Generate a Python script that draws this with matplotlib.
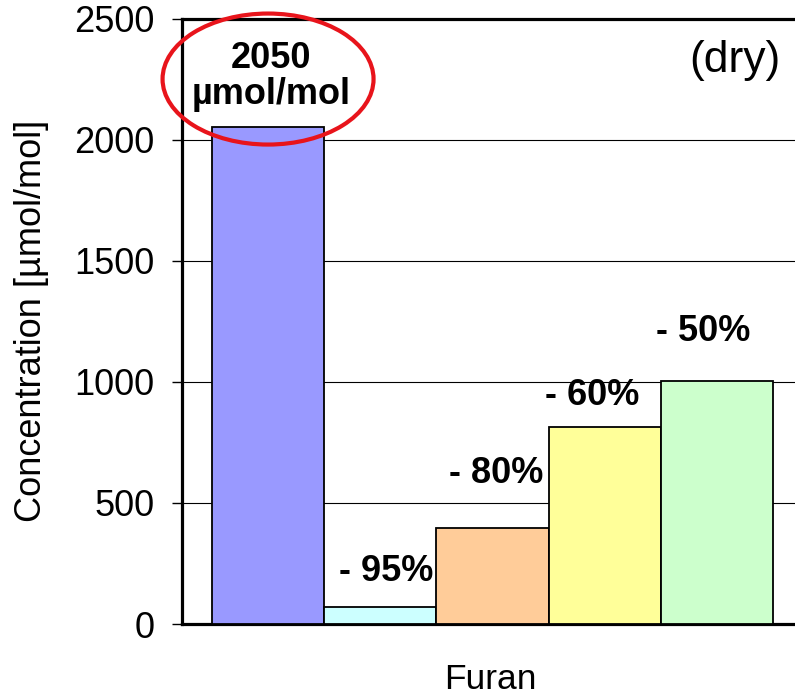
import matplotlib
matplotlib.use("Agg")
import matplotlib.pyplot as plt
from matplotlib.patches import Ellipse

plt.rcParams['font.family'] = ['Liberation Sans', 'DejaVu Sans']

# Furan concentration for the untreated gas and four treatments (dry)
categories = ["untreated", "treatment A", "treatment B", "treatment C", "treatment D"]
values = [2050, 70, 395, 815, 1005]
reduction_labels = ["", "- 95%", "- 80%", "- 60%", "- 50%"]
bar_colors = ["#9999FF", "#CCFFFF", "#FFCC99", "#FFFF99", "#CCFFCC"]
y_ticks = [0, 500, 1000, 1500, 2000, 2500]

# per-label offsets (points) relative to the bar's top centre
label_offsets = [(0, 0), (4, 13), (3, 27), (-9, 10), (-10, 23)]

fig = plt.figure(figsize=(7.95, 6.98), dpi=100)
ax = fig.add_axes([182 / 795, 1 - 624 / 698, 621 / 795, (624 - 18.5) / 698])

x = list(range(len(values)))
ax.bar(x, values, width=1.0, color=bar_colors, edgecolor="black",
       linewidth=1.3, zorder=3)

ax.set_ylim(0, 2500)
ax.set_xlim(-0.767, 4.768)
ax.set_yticks(y_ticks)
ax.set_yticklabels([str(t) for t in y_ticks], fontsize=26)
ax.set_xticks([])
ax.tick_params(axis="y", direction="out", length=7, width=1, pad=13)
ax.yaxis.grid(True, color="black", linewidth=0.8, zorder=0)
ax.set_axisbelow(True)

for side in ["left", "top", "bottom"]:
    ax.spines[side].set_linewidth(2.3)
ax.spines["right"].set_visible(False)

ax.set_ylabel("Concentration [µmol/mol]", fontsize=26)
ax.yaxis.set_label_coords(-0.214, 0.5)
ax.set_xlabel("Furan", fontsize=25.5)
ax.xaxis.set_label_coords(0.497, -0.065)

# reduction percentages above the treated bars
for xi, v, lab, (dx, dy) in zip(x, values, reduction_labels, label_offsets):
    if lab:
        ax.annotate(lab, (xi, v), xytext=(dx, dy), textcoords="offset points",
                    ha="center", va="bottom", fontsize=26, fontweight="bold")

# value of the untreated bar, circled
ax.annotate(f"{values[0]}\nµmol/mol", (x[0], values[0]), xytext=(2, 11),
            textcoords="offset points", ha="center", va="bottom",
            fontsize=26, fontweight="bold", linespacing=1.05)
ell = Ellipse((x[0], 2250), width=211 / 112.2, height=131 / 605.5 * 2500,
              fill=False, edgecolor="#E8141B", linewidth=3, zorder=6,
              clip_on=False)
ax.add_patch(ell)

ax.text(0.963, 0.965, "(dry)", transform=ax.transAxes, ha="right", va="top",
        fontsize=32)

fig.savefig("out.png", dpi=100)
